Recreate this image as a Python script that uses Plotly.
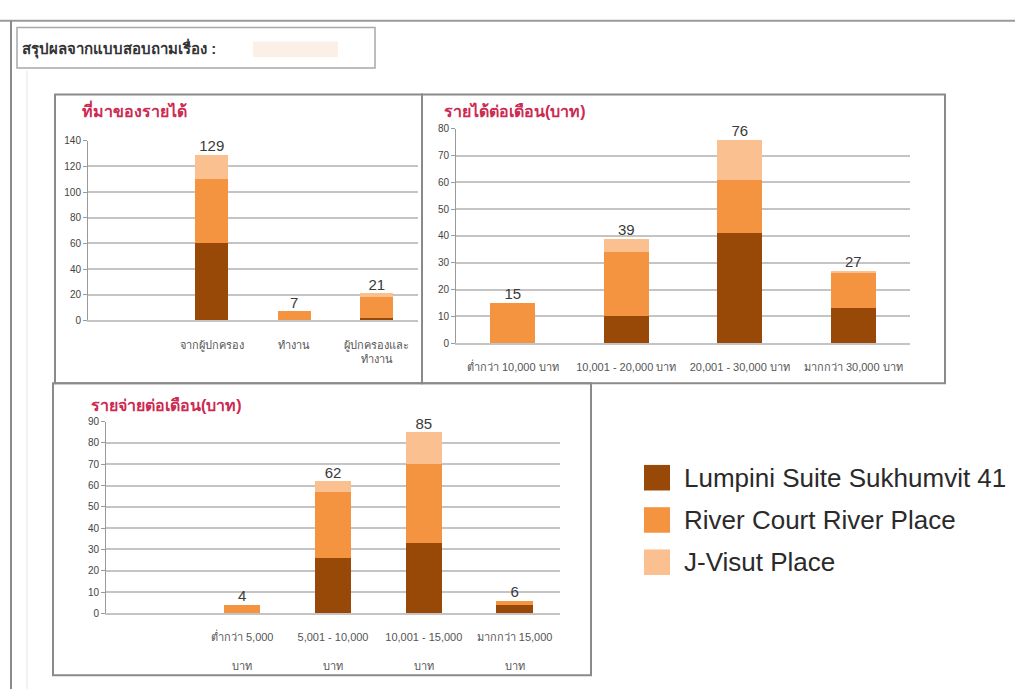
import plotly.graph_objects as go

# ---- data -------------------------------------------------------------
SERIES = ["Lumpini Suite Sukhumvit 41", "River Court River Place", "J-Visut Place"]
COLORS = ["#984807", "#F59440", "#FAC090"]

# chart 1: source of income
income_src_cats = ["จากผู้ปกครอง", "ทำงาน", "ผู้ปกครองและ<br>ทำงาน"]
income_src_lumpini = [60, 0, 2]
income_src_river = [50, 7, 16]
income_src_jvisut = [19, 0, 3]

# chart 2: monthly income (baht)
income_cats = ["ต่ำกว่า 10,000 บาท", "10,001 - 20,000 บาท", "20,001 - 30,000 บาท", "มากกว่า 30,000 บาท"]
income_lumpini = [0, 10, 41, 13]
income_river = [15, 24, 20, 13]
income_jvisut = [0, 5, 15, 1]

# chart 3: monthly expenses (baht)
expense_cats = ["ต่ำกว่า 5,000<br><br>บาท", "5,001 - 10,000<br><br>บาท",
                "10,001 - 15,000<br><br>บาท", "มากกว่า 15,000<br><br>บาท"]
expense_lumpini = [0, 26, 33, 4]
expense_river = [4, 31, 37, 2]
expense_jvisut = [0, 5, 15, 0]

TITLES = ["ที่มาของรายได้", "รายได้ต่อเดือน(บาท)", "รายจ่ายต่อเดือน(บาท)"]
HEADER = "สรุปผลจากแบบสอบถามเรื่อง :"

# ---- page geometry (pixels) -------------------------------------------
W, H = 1015, 695
FONT = "Liberation Sans, Arial, Noto Sans, sans-serif"


def px(x):
    return x / W


def py(y):
    return 1 - y / H


fig = go.Figure()

charts = [
    dict(cats=income_src_cats, vals=[income_src_lumpini, income_src_river, income_src_jvisut], ax=""),
    dict(cats=income_cats, vals=[income_lumpini, income_river, income_jvisut], ax="2"),
    dict(cats=expense_cats, vals=[expense_lumpini, expense_river, expense_jvisut], ax="3"),
]

for ch in charts:
    xa, ya = "x" + ch["ax"], "y" + ch["ax"]
    for name, color, vals in zip(SERIES, COLORS, ch["vals"]):
        fig.add_trace(go.Bar(
            x=ch["cats"], y=vals, name=name, marker=dict(color=color, line=dict(width=0)),
            xaxis=xa, yaxis=ya, showlegend=False, hoverinfo="x+y+name",
        ))
    totals = [sum(v) for v in zip(*ch["vals"])]
    fig.add_trace(go.Scatter(
        x=ch["cats"], y=totals, text=[str(t) for t in totals], mode="text",
        textposition="top center", textfont=dict(size=15, color="#3a3a3a", family=FONT),
        xaxis=xa, yaxis=ya, showlegend=False, hoverinfo="skip", cliponaxis=False,
    ))

grid = dict(showgrid=True, gridcolor="#c4c4c4", gridwidth=1.7, zeroline=False,
            showline=True, linecolor="#9a9a9a", linewidth=1, ticks="outside",
            ticklen=4, tickcolor="#9a9a9a", tickfont=dict(size=10, color="#444", family=FONT),
            fixedrange=True)
xcommon = dict(showgrid=False, showline=True, linecolor="#c4c4c4", linewidth=1.7,
               ticks="", tickfont=dict(size=11, color="#555", family=FONT),
               ticklabelstandoff=13, fixedrange=True, type="category")

fig.update_layout(
    width=W, height=H, autosize=False,
    margin=dict(l=0, r=0, t=0, b=0),
    paper_bgcolor="white", plot_bgcolor="white",
    barmode="stack", bargap=0.6, showlegend=False,
    font=dict(family=FONT),
    xaxis=dict(domain=[px(88), px(418)], anchor="y", range=[-1.5, 2.5], **xcommon),
    yaxis=dict(domain=[py(320), py(137)], anchor="x", range=[0, 140], dtick=20, **grid),
    xaxis2=dict(domain=[px(456), px(910)], anchor="y2", range=[-0.5, 3.5], **xcommon),
    yaxis2=dict(domain=[py(343), py(125)], anchor="x2", range=[0, 80], dtick=10, **grid),
    xaxis3=dict(domain=[px(106), px(560)], anchor="y3", range=[-1.5, 3.5], **xcommon),
    yaxis3=dict(domain=[py(618), py(423)], anchor="x3", range=[0, 90], dtick=10, **grid),
)

shapes = []
annos = []
FRAME = "#8a8a8a"


def line(x0, y0, x1, y1, color=FRAME, width=2):
    shapes.append(dict(type="line", xref="paper", yref="paper",
                       x0=px(x0), y0=py(y0), x1=px(x1), y1=py(y1),
                       line=dict(color=color, width=width)))


# page rule and left border
line(0, 15, W, 15, "#9a9a9a", 2)
line(11, 15, 11, H, "#8a8a8a", 2)
line(27, 66, 27, H, "#e4e4e4", 1)

# header box
shapes.append(dict(type="rect", xref="paper", yref="paper",
                   x0=px(17), y0=py(63), x1=px(375), y1=py(22),
                   line=dict(color="#a8a8a8", width=1.5), fillcolor="white"))
shapes.append(dict(type="rect", xref="paper", yref="paper",
                   x0=px(253), y0=py(52), x1=px(338), y1=py(36),
                   line=dict(width=0), fillcolor="#fbefe6"))
annos.append(dict(xref="paper", yref="paper", x=px(20), y=py(43), xanchor="left",
                  yanchor="middle", text="<b>" + HEADER + "</b>", showarrow=False,
                  font=dict(size=15, color="#333", family=FONT)))

# chart frames
frames = [(55, 90, 422, 384), (422, 90, 945, 384), (53, 384, 591, 681)]
for x0, y0, x1, y1 in frames:
    shapes.append(dict(type="rect", xref="paper", yref="paper",
                       x0=px(x0), y0=py(y1), x1=px(x1), y1=py(y0),
                       line=dict(color=FRAME, width=2)))

# chart titles
title_pos = [(80, 106), (442, 107), (89, 407)]
for t, (x, y) in zip(TITLES, title_pos):
    annos.append(dict(xref="paper", yref="paper", x=px(x), y=py(y), xanchor="left",
                      yanchor="middle", text="<b>" + t + "</b>", showarrow=False,
                      font=dict(size=16, color="#cc2a52", family=FONT)))

# legend
LEG_X, LEG_Y, LEG_STEP, SW = 644, 480, 43, 26
for i, (name, color) in enumerate(zip(SERIES, COLORS)):
    cy = LEG_Y + i * LEG_STEP
    shapes.append(dict(type="rect", xref="paper", yref="paper",
                       x0=px(LEG_X), y0=py(cy + SW / 2), x1=px(LEG_X + SW), y1=py(cy - SW / 2),
                       line=dict(width=0), fillcolor=color))
    annos.append(dict(xref="paper", yref="paper", x=px(LEG_X + 38), y=py(cy), xanchor="left",
                      yanchor="middle", text=name, showarrow=False,
                      font=dict(size=26, color="#2a2a2a", family=FONT)))

fig.update_layout(shapes=shapes, annotations=annos)
fig.write_html("out.html")
